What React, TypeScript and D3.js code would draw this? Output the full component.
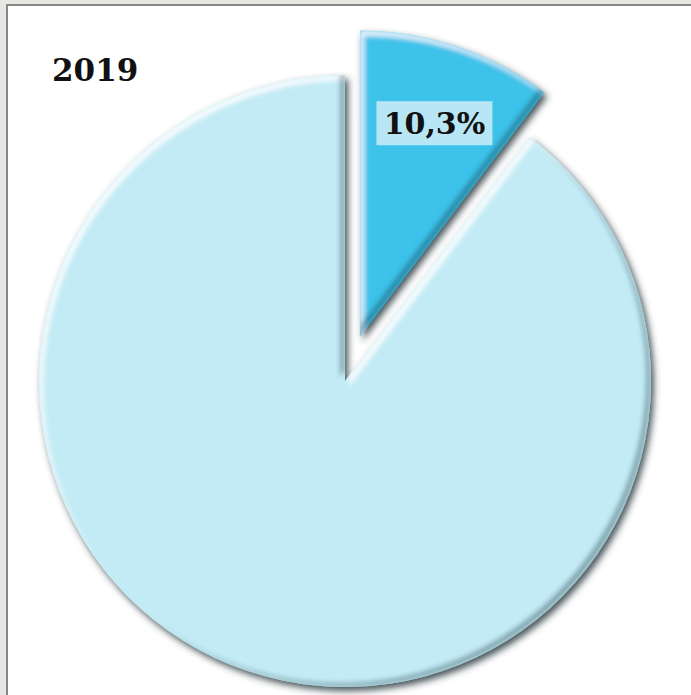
import React from "react";
import * as d3 from "d3";

const categories = ["Other", "Share"];
const values = [89.7, 10.3];
const labels = ["", "10,3%"];
const title = "2019";

const W = 691;
const H = 695;

export default function App() {
  const cx = 345;
  const cy = 381;
  const r = 306;
  const data = [
    { name: categories[1], value: values[1], label: labels[1], explode: 47, color: "#3ec2ea" },
    { name: categories[0], value: values[0], label: labels[0], explode: 0, color: "#c2ebf5" },
  ];
  const pie = d3.pie<any>().sort(null).value((d: any) => d.value);
  const arcs = pie(data);
  const arcGen = d3.arc<any>().innerRadius(0).outerRadius(r);

  return (
    <div style={{ position: "fixed", left: 0, top: 0, width: W, height: H }}>
      <svg width={W} height={H} style={{ display: "block" }}>
        <defs>
          <filter id="bev" x="-10%" y="-10%" width="120%" height="120%">
            <feOffset in="SourceAlpha" dx="4" dy="5" result="o1" />
            <feComposite in="SourceAlpha" in2="o1" operator="out" result="hl" />
            <feGaussianBlur in="hl" stdDeviation="2.5" result="hlb" />
            <feFlood floodColor="#ffffff" floodOpacity="0.9" />
            <feComposite in2="hlb" operator="in" result="hlc" />
            <feComposite in="hlc" in2="SourceAlpha" operator="in" result="hlf" />
            <feOffset in="SourceAlpha" dx="-5" dy="-4" result="o2" />
            <feComposite in="SourceAlpha" in2="o2" operator="out" result="sh" />
            <feGaussianBlur in="sh" stdDeviation="2.5" result="shb" />
            <feFlood floodColor="#1d4f5e" floodOpacity="0.65" />
            <feComposite in2="shb" operator="in" result="shc" />
            <feComposite in="shc" in2="SourceAlpha" operator="in" result="shf" />
            <feGaussianBlur in="SourceAlpha" stdDeviation="3.5" result="db" />
            <feOffset in="db" dx="3" dy="4" result="dbo" />
            <feFlood floodColor="#26363c" floodOpacity="0.85" />
            <feComposite in2="dbo" operator="in" result="drop" />
            <feMerge>
              <feMergeNode in="drop" />
              <feMergeNode in="SourceGraphic" />
              <feMergeNode in="hlf" />
              <feMergeNode in="shf" />
            </feMerge>
          </filter>
        </defs>
        <rect x={0} y={0} width={W} height={H} fill="#e8e6e3" />
        <rect x={7} y={5} width={W} height={H} fill="#ffffff" stroke="#888888" strokeWidth={2} />
        <text x={52} y={81} fontFamily="'DejaVu Serif', serif" fontWeight="bold" fontSize={31} fill="#111">
          {title}
        </text>
        {arcs.map((a, i) => {
          const mid = (a.startAngle + a.endAngle) / 2;
          const d = a.data.explode;
          const ox = cx + Math.sin(mid) * d;
          const oy = cy - Math.cos(mid) * d;
          return (
            <g key={i} transform={`translate(${ox},${oy})`}>
              <path d={arcGen(a) as string} fill={a.data.color} filter="url(#bev)" />
            </g>
          );
        })}
        {arcs.map((a, i) => {
          if (!a.data.label) return null;
          const mid = (a.startAngle + a.endAngle) / 2;
          const d = a.data.explode;
          const ox = cx + Math.sin(mid) * d;
          const oy = cy - Math.cos(mid) * d;
          const lr = r * 0.735;
          const lx = ox + Math.sin(mid) * lr + 3;
          const ly = oy - Math.cos(mid) * lr;
          return (
            <g key={"l" + i}>
              <rect x={lx - 58} y={ly - 22} width={116} height={44} fill="#b9e6f5" />
              <text x={lx} y={ly + 11} textAnchor="middle" fontFamily="'DejaVu Serif', serif" fontWeight="bold" fontSize={30} fill="#111">
                {a.data.label}
              </text>
            </g>
          );
        })}
      </svg>
    </div>
  );
}
